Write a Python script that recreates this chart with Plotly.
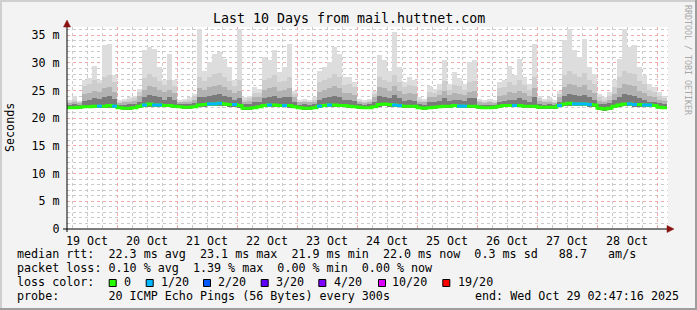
import plotly.graph_objects as go
import pandas as pd

W, H = 697, 310
ML, MR, MT, MB = 67, 29, 27, 81
PW = W - ML - MR
PH = H - MT - MB

FONT = "DejaVu Sans Mono"
FS = 11.7

title = "Last 10 Days from mail.huttnet.com"
y_tickvals = [0, 5, 10, 15, 20, 25, 30, 35]
y_ticktext = ["0", "5 m", "10 m", "15 m", "20 m", "25 m", "30 m", "35 m"]

# 2-hour bins starting 2025-10-19 04:00
bin_start = pd.date_range("2025-10-19 04:00", periods=120, freq="2h")

smoke_max = [
    23.3, 24.1, 23.2, 26.9, 27.2, 29.5, 27.0, 33.2, 33.5, 27.8,
    23.3, 23.5, 23.8, 24.1, 25.3, 32.3, 32.9, 32.6, 29.2, 26.9,
    31.7, 26.9, 23.3, 23.5, 23.8, 24.4, 36.2, 28.6, 30.2, 31.7,
    32.0, 30.8, 29.2, 26.9, 36.2, 23.8, 24.1, 25.6, 25.3, 31.1,
    30.5, 32.3, 28.3, 29.2, 33.5, 25.0, 23.3, 23.5, 23.3, 23.8,
    28.6, 29.2, 30.2, 32.9, 31.7, 27.4, 27.4, 26.5, 23.5, 23.3,
    23.5, 25.0, 31.4, 30.5, 28.6, 35.6, 29.2, 26.5, 27.4, 26.9,
    23.8, 23.5, 25.9, 25.3, 26.2, 30.5, 26.2, 28.3, 27.2, 26.2,
    30.2, 30.5, 23.5, 23.3, 23.5, 23.3, 26.5, 26.9, 29.5, 27.8,
    30.8, 27.4, 26.2, 33.5, 24.1, 23.5, 23.8, 23.3, 25.0, 34.1,
    36.2, 32.3, 31.1, 34.4, 29.2, 28.0, 24.4, 23.8, 24.7, 26.9,
    30.8, 36.2, 32.9, 33.2, 29.2, 27.8, 26.2, 25.6, 24.7, 24.1,
]
smoke_hi = [
    23.0, 23.4, 23.0, 25.8, 26.2, 27.0, 26.4, 27.5, 27.8, 26.5,
    23.0, 23.2, 23.4, 23.6, 24.8, 27.2, 28.0, 27.5, 26.8, 26.0,
    27.0, 25.8, 23.0, 23.2, 23.4, 24.0, 27.5, 26.8, 27.5, 28.0,
    28.2, 27.5, 26.8, 25.8, 27.0, 23.4, 23.6, 24.6, 24.6, 27.0,
    27.2, 27.8, 26.5, 26.8, 27.5, 24.4, 23.0, 23.2, 23.0, 23.4,
    26.5, 27.0, 27.2, 28.0, 27.5, 26.0, 26.2, 25.6, 23.2, 23.0,
    23.2, 24.4, 27.5, 27.0, 26.5, 27.8, 26.5, 25.6, 26.0, 25.8,
    23.4, 23.2, 24.8, 24.6, 25.2, 26.8, 25.2, 26.0, 25.8, 25.2,
    26.5, 26.8, 23.2, 23.0, 23.2, 23.0, 25.4, 25.6, 26.5, 26.0,
    27.0, 26.0, 25.2, 27.5, 23.6, 23.2, 23.4, 23.0, 24.4, 27.8,
    28.5, 28.0, 27.5, 28.2, 27.0, 26.2, 23.8, 23.4, 24.0, 25.6,
    27.5, 28.5, 28.2, 28.0, 26.8, 26.2, 25.2, 24.8, 24.0, 23.6,
]
smoke_mid = [
    22.8, 23.0, 22.8, 24.4, 24.6, 25.0, 24.8, 25.4, 25.6, 24.8,
    22.8, 22.9, 23.0, 23.2, 24.0, 25.2, 25.8, 25.6, 25.2, 24.8,
    25.2, 24.6, 22.9, 23.0, 23.0, 23.4, 25.4, 25.2, 25.6, 25.8,
    26.0, 25.6, 25.2, 24.6, 25.0, 23.0, 23.1, 23.8, 23.8, 25.2,
    25.4, 25.6, 25.0, 25.2, 25.4, 23.8, 22.9, 23.0, 22.9, 23.0,
    24.8, 25.2, 25.4, 25.8, 25.4, 24.6, 24.6, 24.2, 22.9, 22.8,
    22.9, 23.8, 25.6, 25.4, 25.0, 25.8, 25.0, 24.4, 24.6, 24.4,
    23.0, 22.9, 23.8, 23.8, 24.2, 25.0, 24.2, 24.6, 24.4, 24.2,
    24.8, 25.0, 22.9, 22.8, 22.9, 22.8, 24.0, 24.2, 24.8, 24.6,
    25.0, 24.6, 24.0, 25.4, 23.2, 22.9, 23.0, 22.8, 23.8, 25.6,
    26.2, 26.0, 25.6, 26.0, 25.2, 24.6, 23.2, 23.0, 23.4, 24.4,
    25.4, 26.2, 26.0, 25.8, 25.0, 24.6, 24.0, 23.8, 23.4, 23.2,
]
smoke_dark = [
    22.4, 22.5, 22.4, 23.2, 23.4, 23.6, 23.5, 23.8, 24.0, 23.5,
    22.4, 22.4, 22.5, 22.6, 23.0, 23.8, 24.2, 24.0, 23.8, 23.4,
    23.8, 23.3, 22.5, 22.5, 22.5, 22.8, 23.8, 23.8, 24.0, 24.2,
    24.4, 24.0, 23.8, 23.4, 23.6, 22.5, 22.5, 23.0, 23.0, 23.6,
    23.8, 24.0, 23.6, 23.8, 23.8, 23.0, 22.4, 22.5, 22.4, 22.5,
    23.4, 23.6, 23.8, 24.0, 23.8, 23.4, 23.4, 23.2, 22.5, 22.4,
    22.5, 23.0, 24.0, 23.8, 23.6, 24.2, 23.6, 23.2, 23.4, 23.2,
    22.5, 22.4, 23.0, 23.0, 23.2, 23.6, 23.2, 23.4, 23.4, 23.2,
    23.6, 23.6, 22.4, 22.4, 22.4, 22.4, 23.0, 23.2, 23.4, 23.4,
    23.6, 23.4, 23.0, 23.8, 22.6, 22.4, 22.5, 22.4, 23.0, 24.0,
    24.4, 24.2, 24.0, 24.2, 23.8, 23.4, 22.6, 22.5, 22.8, 23.4,
    23.8, 24.4, 24.2, 24.0, 23.6, 23.4, 23.0, 23.0, 22.8, 22.6,
]
smoke_min = [
    21.6, 21.6, 21.7, 21.8, 21.8, 21.8, 21.9, 21.8, 21.9, 21.9,
    21.6, 21.5, 21.5, 21.6, 21.9, 22.0, 22.1, 22.0, 22.0, 22.0,
    22.0, 21.9, 21.8, 21.7, 21.7, 21.8, 22.0, 22.1, 22.2, 22.2,
    22.3, 22.2, 22.1, 22.1, 21.9, 21.5, 21.5, 21.6, 21.8, 22.0,
    22.0, 22.0, 22.0, 22.0, 21.9, 21.8, 21.6, 21.5, 21.5, 21.6,
    21.9, 22.0, 22.0, 22.0, 22.0, 22.0, 21.9, 21.8, 21.7, 21.6,
    21.6, 21.8, 22.1, 22.2, 22.1, 22.0, 22.0, 21.9, 21.9, 21.9,
    21.6, 21.5, 21.6, 21.7, 21.8, 21.9, 21.9, 22.0, 21.9, 21.9,
    21.9, 21.9, 21.7, 21.6, 21.6, 21.7, 21.9, 22.0, 22.0, 22.0,
    22.0, 21.9, 21.9, 21.9, 21.7, 21.7, 21.7, 21.7, 22.0, 22.2,
    22.3, 22.2, 22.2, 22.2, 22.1, 22.0, 21.5, 21.4, 21.5, 21.9,
    22.0, 22.2, 22.2, 22.1, 22.1, 22.0, 22.0, 22.0, 21.7, 21.6,
]
median = [
    21.9, 21.9, 22.0, 22.1, 22.1, 22.2, 22.2, 22.2, 22.3, 22.2,
    21.9, 21.8, 21.8, 21.9, 22.2, 22.4, 22.6, 22.4, 22.4, 22.3,
    22.3, 22.2, 22.1, 22.0, 22.0, 22.1, 22.4, 22.5, 22.6, 22.6,
    22.7, 22.6, 22.5, 22.5, 22.3, 21.8, 21.8, 21.9, 22.1, 22.3,
    22.4, 22.4, 22.3, 22.3, 22.3, 22.1, 21.9, 21.8, 21.8, 21.9,
    22.2, 22.3, 22.4, 22.4, 22.3, 22.3, 22.2, 22.1, 22.0, 21.9,
    21.9, 22.1, 22.5, 22.6, 22.5, 22.4, 22.3, 22.2, 22.2, 22.2,
    21.9, 21.8, 21.9, 22.0, 22.1, 22.2, 22.2, 22.3, 22.2, 22.2,
    22.2, 22.2, 22.0, 21.9, 21.9, 22.0, 22.2, 22.3, 22.3, 22.3,
    22.3, 22.2, 22.2, 22.2, 22.0, 22.0, 22.0, 22.0, 22.3, 22.6,
    22.7, 22.6, 22.6, 22.6, 22.5, 22.4, 21.8, 21.7, 21.8, 22.2,
    22.4, 22.6, 22.6, 22.5, 22.5, 22.4, 22.4, 22.3, 22.0, 21.9,
]
loss = [
    0, 0, 0, 0, 0, 0, 1, 0, 0, 1,
    0, 0, 0, 0, 0, 1, 0, 1, 1, 0,
    0, 0, 0, 0, 0, 0, 0, 0, 1, 1,
    1, 0, 0, 1, 0, 0, 0, 0, 0, 0,
    1, 0, 0, 1, 0, 0, 0, 0, 0, 0,
    1, 0, 1, 0, 0, 0, 0, 0, 0, 0,
    0, 0, 0, 0, 0, 1, 1, 0, 0, 0,
    0, 0, 0, 0, 0, 0, 0, 0, 1, 1,
    0, 0, 0, 0, 0, 0, 0, 0, 0, 1,
    0, 0, 0, 0, 0, 0, 0, 0, 1, 0,
    0, 1, 1, 1, 1, 0, 0, 0, 0, 0,
    0, 0, 1, 1, 0, 1, 1, 0, 0, 0,
]

loss_levels = [0, 1, 2, 3, 4, 10, 19]
loss_labels = ["0", "1/20", "2/20", "3/20", "4/20", "10/20", "19/20"]
loss_colors = ["#26ff00", "#00b8ff", "#0059ff", "#5e00ff", "#7e00ff", "#dd00ff", "#ff0000"]

legend_lines = [
    "median rtt:  22.3 ms avg  23.1 ms max  21.9 ms min  22.0 ms now  0.3 ms sd   88.7   am/s",
    "packet loss: 0.10 % avg  1.39 % max  0.00 % min  0.00 % now",
    "loss color:",
    "probe:       20 ICMP Echo Pings (56 Bytes) every 300s",
]
end_text = "end: Wed Oct 29 02:47:16 2025"

# ---------------------------------------------------------------
bin_ms = 2 * 3600 * 1000
centers = bin_start + pd.Timedelta(hours=1)
bin_end = bin_start + pd.Timedelta(hours=2)
x0 = pd.Timestamp("2025-10-19 04:00")
x1 = x0 + pd.Timedelta(days=PW / 60.0)

fig = go.Figure()

smoke_layers = [
    (smoke_max, "#dddddd"),
    (smoke_hi, "#cdcdcd"),
    (smoke_mid, "#b2b2b2"),
    (smoke_dark, "#7a7a7a"),
]
for top, col in smoke_layers:
    fig.add_trace(go.Bar(
        x=centers, y=[t - b for t, b in zip(top, smoke_min)], base=smoke_min,
        width=bin_ms, marker=dict(color=col, line=dict(width=0)),
        hoverinfo="skip", showlegend=False,
    ))

# median line (green = no loss)
fig.add_trace(go.Scatter(
    x=list(bin_start) + [bin_end[-1]], y=median + [median[-1]],
    mode="lines", line=dict(color=loss_colors[0], width=3, shape="hv"),
    hoverinfo="skip", showlegend=False,
))


def loss_color(v):
    c = loss_colors[0]
    for lv, cc in zip(loss_levels, loss_colors):
        if v >= lv:
            c = cc
    return c


for lvl_i in range(1, len(loss_levels)):
    xs, ys = [], []
    for i, v in enumerate(loss):
        if v > 0 and loss_color(v) == loss_colors[lvl_i]:
            xs += [bin_start[i], bin_end[i], None]
            ys += [median[i], median[i], None]
    if xs:
        fig.add_trace(go.Scatter(
            x=xs, y=ys, mode="lines",
            line=dict(color=loss_colors[lvl_i], width=3),
            hoverinfo="skip", showlegend=False,
        ))

MGRID = "#f3a8a8"
GRID = "#cacaca"

fig.update_layout(
    width=W, height=H,
    margin=dict(l=ML, r=MR, t=MT, b=MB, pad=0),
    paper_bgcolor="#f3f3f3", plot_bgcolor="#ffffff",
    barmode="overlay", bargap=0, showlegend=False,
    font=dict(family=FONT, size=FS, color="#000000"),
    xaxis=dict(
        type="date", range=[x0, x1], fixedrange=True,
        tickmode="linear", tick0="2025-10-19 00:00", dtick=86400000,
        ticklabelmode="period", tickformat="%d %b",
        ticks="outside", ticklen=1, tickcolor="rgba(0,0,0,0)",
        tickfont=dict(family=FONT, size=FS, color="#000000"),
        showgrid=True, gridcolor=MGRID, griddash="dot", gridwidth=1,
        minor=dict(dtick=6 * 3600 * 1000, tick0="2025-10-19 00:00",
                   showgrid=True, gridcolor=GRID, griddash="dot", gridwidth=1, ticks=""),
        zeroline=False, showline=False, layer="below traces",
    ),
    yaxis=dict(
        range=[0, 36.5], fixedrange=True,
        tickmode="array", tickvals=y_tickvals, ticktext=y_ticktext,
        ticks="outside", ticklen=4, tickcolor="rgba(0,0,0,0)",
        tickfont=dict(family=FONT, size=FS, color="#000000"),
        showgrid=True, gridcolor=MGRID, griddash="dot", gridwidth=1,
        minor=dict(dtick=1, tick0=0, showgrid=True, gridcolor=GRID,
                   griddash="dot", gridwidth=1, ticks=""),
        zeroline=False, showline=False,
    ),
)


def px(p):
    return (p - ML) / PW


def py(p):
    return (MT + PH - p) / PH


shapes = []
# frame
shapes.append(dict(type="line", xref="paper", yref="paper", x0=px(0), x1=px(W), y0=py(1), y1=py(1),
                   line=dict(color="#cfcfcf", width=2)))
shapes.append(dict(type="line", xref="paper", yref="paper", x0=px(1), x1=px(1), y0=py(0), y1=py(H),
                   line=dict(color="#cfcfcf", width=2)))
shapes.append(dict(type="line", xref="paper", yref="paper", x0=px(0), x1=px(W), y0=py(H - 1), y1=py(H - 1),
                   line=dict(color="#9e9e9e", width=2)))
shapes.append(dict(type="line", xref="paper", yref="paper", x0=px(W - 1), x1=px(W - 1), y0=py(0), y1=py(H),
                   line=dict(color="#9e9e9e", width=2)))
# axes
shapes.append(dict(type="line", xref="paper", yref="paper", x0=px(67), x1=px(67), y0=py(232), y1=py(25),
                   line=dict(color="#000000", width=1)))
shapes.append(dict(type="line", xref="paper", yref="paper", x0=px(63), x1=px(669), y0=py(229), y1=py(229),
                   line=dict(color="#000000", width=1)))
ARROW = "#8b1010"
shapes.append(dict(type="path", xref="paper", yref="paper",
                   path=f"M {px(67)},{py(20)} L {px(63.5)},{py(27)} L {px(70.5)},{py(27)} Z",
                   fillcolor=ARROW, line=dict(color=ARROW, width=0.5)))
shapes.append(dict(type="path", xref="paper", yref="paper",
                   path=f"M {px(674)},{py(229)} L {px(667)},{py(225.5)} L {px(667)},{py(232.5)} Z",
                   fillcolor=ARROW, line=dict(color=ARROW, width=0.5)))

# loss colour swatches
swatch_x = [108.7, 145.7, 203, 260.7, 318.3, 378, 442.3]
label_x = [123, 160, 217.3, 275.3, 333, 390.7, 456.7]
for sx, col in zip(swatch_x, loss_colors):
    shapes.append(dict(type="rect", xref="paper", yref="paper",
                       x0=px(sx + 0.5), x1=px(sx + 7.5), y0=py(279.5), y1=py(286.5),
                       fillcolor=col, line=dict(color="#000000", width=1)))

ann = []


def nb(s):
    return s.replace(" ", "\u00a0")


ann.append(dict(text=nb(title), x=px(348.5), y=py(19), xref="paper", yref="paper",
                xanchor="center", yanchor="middle", showarrow=False,
                font=dict(family=FONT, size=13.3, color="#000000")))
ann.append(dict(text="Seconds", x=px(10), y=py(128), xref="paper", yref="paper",
                xanchor="center", yanchor="middle", showarrow=False, textangle=-90,
                font=dict(family=FONT, size=FS, color="#000000")))
ann.append(dict(text=nb("RRDTOOL / TOBI OETIKER"), x=px(688), y=py(60), xref="paper", yref="paper",
                xanchor="center", yanchor="middle", showarrow=False, textangle=90,
                font=dict(family=FONT, size=8.3, color="#a8a8a8")))
line_y = [254.5, 268.3, 282.3, 296.2]
for t, yy in zip(legend_lines, line_y):
    ann.append(dict(text=nb(t), x=px(16), y=py(yy), xref="paper", yref="paper",
                    xanchor="left", yanchor="middle", showarrow=False, borderpad=0,
                    font=dict(family=FONT, size=FS, color="#000000")))
for lx, lab in zip(label_x, loss_labels):
    ann.append(dict(text=lab, x=px(lx), y=py(282.3), xref="paper", yref="paper",
                    xanchor="left", yanchor="middle", showarrow=False, borderpad=0,
                    font=dict(family=FONT, size=FS, color="#000000")))
ann.append(dict(text=nb(end_text), x=px(680), y=py(296.2), xref="paper", yref="paper",
                xanchor="right", yanchor="middle", showarrow=False, borderpad=0,
                font=dict(family=FONT, size=FS, color="#000000")))

fig.update_layout(shapes=shapes, annotations=ann)

fig.write_html("out.html")
